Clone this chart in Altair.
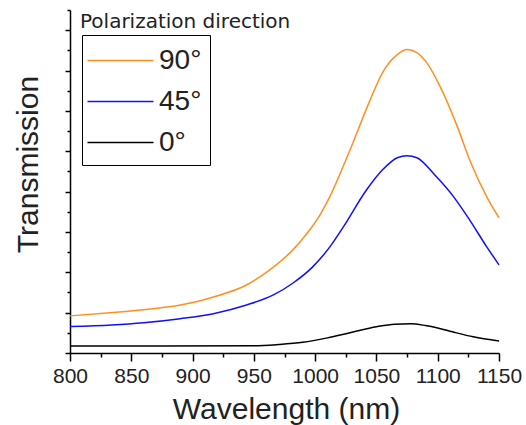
import altair as alt
import pandas as pd

# ---- data (transmission in arbitrary units) ----
wl_90 = [800, 830, 857, 879, 890, 900, 917, 944, 963, 980, 993, 1004, 1012, 1028,
         1045, 1055, 1067, 1075, 1083, 1091, 1102, 1116, 1126, 1140, 1150]
t_90 = [1.84, 1.98, 2.13, 2.28, 2.38, 2.50, 2.78, 3.37, 4.12, 5.00, 5.90, 6.85, 7.75, 10.00,
        12.56, 13.90, 14.79, 15.04, 14.89, 14.39, 13.20, 11.22, 9.58, 7.74, 6.70]

wl_45 = [800, 834, 860, 890, 917, 944, 966, 982, 998, 1012,
         1023, 1042, 1055, 1067, 1075, 1083, 1099, 1113, 1126, 1140, 1150]
t_45 = [1.31, 1.39, 1.50, 1.70, 1.95, 2.38, 2.88, 3.47, 4.27, 5.26,
        6.25, 8.09, 9.08, 9.68, 9.78, 9.68, 8.73, 7.74, 6.60, 5.26, 4.37]

wl_0 = [800, 950, 970, 990, 1010, 1030, 1050, 1065, 1078, 1090, 1100, 1112, 1129, 1150]
t_0 = [0.35, 0.36, 0.42, 0.53, 0.75, 1.03, 1.30, 1.43, 1.45, 1.36, 1.24, 1.05, 0.80, 0.60]

series_names = ["90°", "45°", "0°"]
series_colors = ["#FF8F1F", "#1010FF", "#000000"]
legend_title = "Polarization direction"
x_tick_values = list(range(800, 1151, 25))
y_tick_values = list(range(0, 18))

rows = []
for name, wl, tv in [("90°", wl_90, t_90), ("45°", wl_45, t_45), ("0°", wl_0, t_0)]:
    for w, v in zip(wl, tv):
        rows.append({"Wavelength": w, "Transmission": v, "Polarization": name})
df = pd.DataFrame(rows)

FONT = "Liberation Sans"
TEXT = "#222222"

lines = alt.Chart(df).mark_line(strokeWidth=1.5, interpolate="monotone").encode(
    x=alt.X("Wavelength:Q",
            scale=alt.Scale(domain=[800, 1150], nice=False, zero=False),
            axis=alt.Axis(title="Wavelength (nm)", values=x_tick_values, format="d",
                          labelExpr="datum.value % 50 === 0 ? datum.label : ''",
                          tickSize={"condition": {"test": "datum.value % 50 === 0", "value": 8}, "value": 4},
                          labelFontSize=21, labelPadding=4, labelFlush=False,
                          titleFontSize=30, titleX=216, titleY=65,
                          titleBaseline="alphabetic", titleAlign="center")),
    y=alt.Y("Transmission:Q",
            scale=alt.Scale(domain=[0, 17], nice=False),
            axis=alt.Axis(title="Transmission", values=y_tick_values, labels=False,
                          tickSize={"condition": {"test": "datum.value % 2 === 0", "value": 5}, "value": 3},
                          titleFontSize=30, titleX=-33, titleY=154,
                          titleBaseline="alphabetic", titleAlign="center", titleAngle=-90)),
    color=alt.Color("Polarization:N",
                    scale=alt.Scale(domain=series_names, range=series_colors),
                    legend=alt.Legend(title=None, orient="none", legendX=12, legendY=25,
                                      symbolType="M-2,0H2", symbolSize=1089, symbolStrokeWidth=1.5,
                                      symbolOffset=13,
                                      labelFontSize=28, labelFont=FONT, labelColor=TEXT,
                                      labelOffset=21, strokeColor="black", fillColor="white",
                                      padding=8, rowPadding=9)),
)

title_text = alt.Chart(pd.DataFrame({"label": [legend_title]})).mark_text(
    align="left", baseline="alphabetic", fontSize=20, font="DejaVu Sans", color=TEXT
).encode(x=alt.value(10), y=alt.value(18), text="label:N")

chart = alt.layer(lines, title_text).properties(
    width=429, height=343,
    padding={"left": 70, "top": 10, "right": 27, "bottom": 72},
    autosize=alt.AutoSizeParams(type="none"),
).configure_view(stroke=None).configure_axis(
    domainColor="black", domainWidth=1.5, tickColor="black", tickWidth=1.5,
    grid=False, labelFont=FONT, titleFont=FONT, labelColor=TEXT, titleColor=TEXT,
    titleFontWeight="normal",
)

chart.save("out.html", embed_options={"renderer": "svg", "actions": False})
